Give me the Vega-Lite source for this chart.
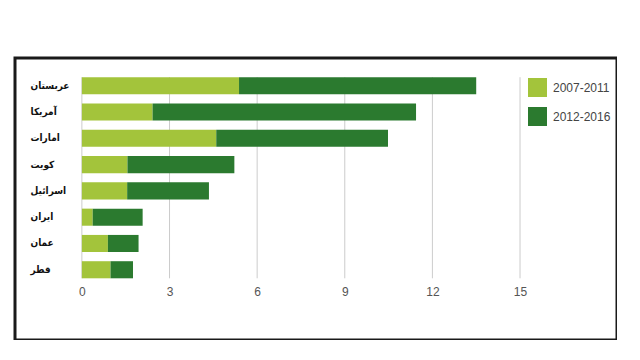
{
  "$schema": "https://vega.github.io/schema/vega-lite/v6.json",
  "width": 602,
  "height": 282,
  "autosize": {"type": "none"},
  "padding": {"left": 15, "top": 58, "right": 0, "bottom": 0},
  "background": "white",
  "config": {
    "view": {"stroke": "#1a1a1a", "strokeWidth": 3},
    "font": "Liberation Sans"
  },
  "datasets": {
    "bars": [
      {"country": "عربستان", "period": "2007-2011", "value": 5.38},
      {"country": "عربستان", "period": "2012-2016", "value": 8.12},
      {"country": "آمریکا", "period": "2007-2011", "value": 2.42},
      {"country": "آمریکا", "period": "2012-2016", "value": 9.02},
      {"country": "امارات", "period": "2007-2011", "value": 4.6},
      {"country": "امارات", "period": "2012-2016", "value": 5.88},
      {"country": "کویت", "period": "2007-2011", "value": 1.56},
      {"country": "کویت", "period": "2012-2016", "value": 3.66},
      {"country": "اسرائیل", "period": "2007-2011", "value": 1.55},
      {"country": "اسرائیل", "period": "2012-2016", "value": 2.8},
      {"country": "ایران", "period": "2007-2011", "value": 0.37},
      {"country": "ایران", "period": "2012-2016", "value": 1.71},
      {"country": "عمان", "period": "2007-2011", "value": 0.89},
      {"country": "عمان", "period": "2012-2016", "value": 1.05},
      {"country": "قطر", "period": "2007-2011", "value": 0.98},
      {"country": "قطر", "period": "2012-2016", "value": 0.77}
    ],
    "grid": [{"g": 0}, {"g": 3}, {"g": 6}, {"g": 9}, {"g": 12}, {"g": 15}]
  },
  "layer": [
    {
      "data": {"name": "grid"},
      "mark": {"type": "rule", "color": "#cccccc", "strokeWidth": 1},
      "encoding": {
        "x": {"field": "g", "type": "quantitative", "scale": {"domain": [-2.29, 18.32], "nice": false, "zero": false}},
        "y": {"datum": "عربستان", "bandPosition": 0, "type": "nominal"},
        "y2": {"datum": "قطر", "bandPosition": 1}
      }
    },
    {
      "data": {"name": "bars"},
      "mark": {"type": "bar"},
      "encoding": {
        "y": {
          "field": "country",
          "type": "nominal",
          "sort": ["عربستان", "آمریکا", "امارات", "کویت", "اسرائیل", "ایران", "عمان", "قطر"],
          "scale": {"paddingInner": 0.35, "paddingOuter": 0, "range": [19.2, 220.3]},
          "axis": {
            "title": null,
            "domain": false,
            "ticks": false,
            "tickSize": 0,
            "labelAlign": "left",
            "labelPadding": -15,
            "labelFont": "DejaVu Sans Condensed",
            "labelFontWeight": "bold",
            "labelFontSize": 10,
            "labelColor": "#111111"
          }
        },
        "x": {
          "field": "value",
          "type": "quantitative",
          "stack": "zero",
          "scale": {"domain": [-2.29, 18.32], "nice": false, "zero": false},
          "axis": {
            "title": null,
            "values": [0, 3, 6, 9, 12, 15],
            "grid": false,
            "domain": false,
            "ticks": false,
            "tickSize": 0,
            "offset": -55,
            "labelPadding": 1,
            "labelFontSize": 12,
            "labelColor": "#555555"
          }
        },
        "color": {
          "field": "period",
          "type": "nominal",
          "scale": {"domain": ["2007-2011", "2012-2016"], "range": ["#a3c43b", "#2b7a2f"]},
          "legend": {
            "title": null,
            "orient": "none",
            "legendX": 513,
            "legendY": 20,
            "padding": 0,
            "symbolType": "square",
            "symbolSize": 361,
            "symbolStrokeWidth": 0,
            "rowPadding": 10,
            "labelOffset": 6,
            "labelFontSize": 12,
            "labelColor": "#444444"
          }
        }
      }
    }
  ]
}
